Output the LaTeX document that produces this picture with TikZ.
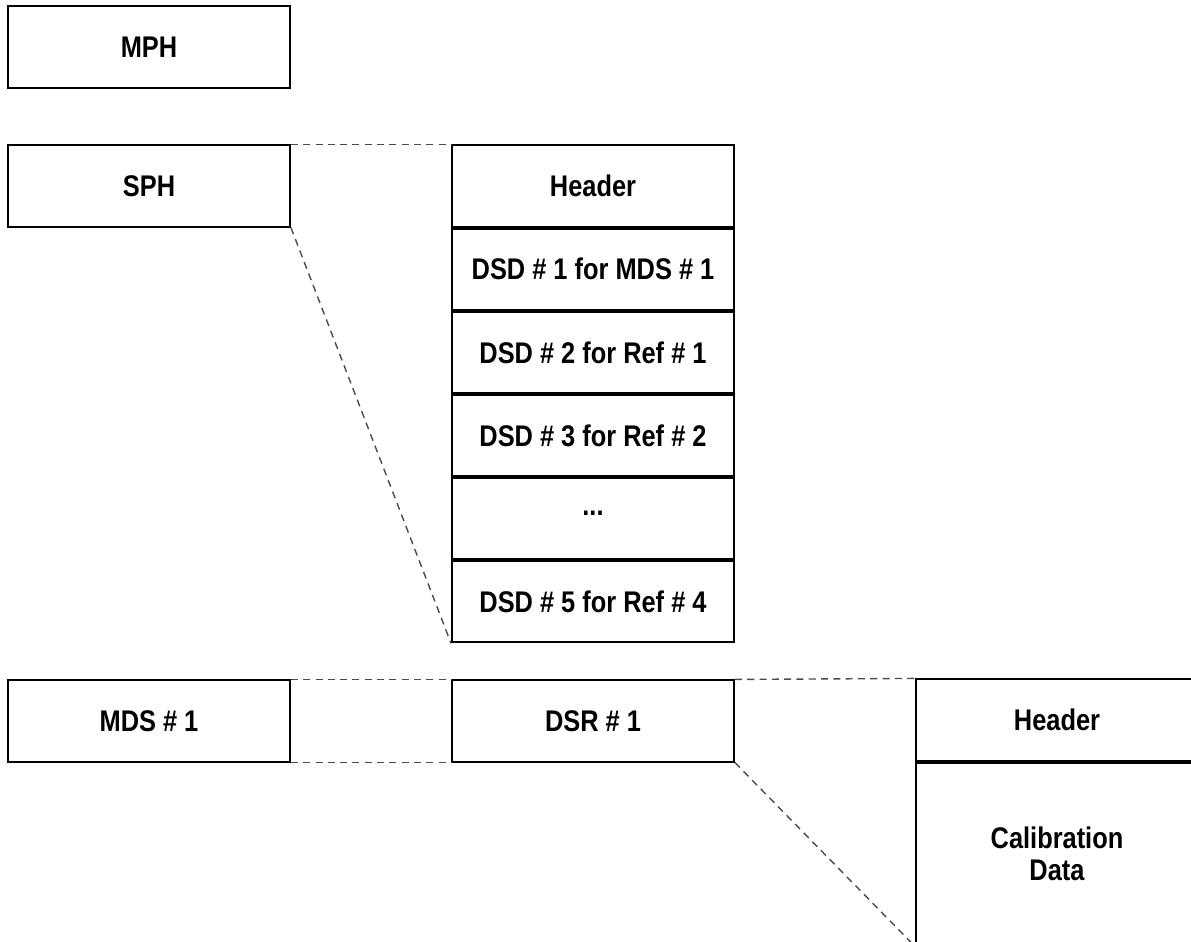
\documentclass[tikz,border=0pt]{standalone}
\usepackage{fontspec}
\setmainfont{Liberation Sans}[FakeStretch=0.85]
\usetikzlibrary{positioning}

\tikzset{
blk/.style={draw, line width=1.1pt, minimum width=5.64cm, minimum height=1.625cm, inner sep=0pt, align=center, font=\bfseries\fontsize{17}{18.5}\selectfont},
link/.style={dashed, dash pattern=on 4pt off 3pt, line width=0.8pt, gray!60!black}}

\begin{document}
\begin{tikzpicture}[x=0.02cm, y=-0.02cm, node distance=0pt]
   \path[use as bounding box, clip] (0,0) rectangle (1191,941);
   % product headers
   \node[blk] (mph) at (149,47) {MPH};
   \node[blk] (sph) at (149,186) {SPH};
   % SPH contents
   \node[blk] (hdr) at (593,186) {Header};
   \node[blk, below=of hdr] (dsd1) {DSD \# 1 for MDS \# 1};
   \node[blk, below=of dsd1] (dsd2) {DSD \# 2 for Ref \# 1};
   \node[blk, below=of dsd2] (dsd3) {DSD \# 3 for Ref \# 2};
   \node[blk, below=of dsd3] (dots) {\raisebox{6pt}{...}};
   \node[blk, below=of dots] (dsd5) {DSD \# 5 for Ref \# 4};
   % data set
   \node[blk] (mds) at (149,721) {MDS \# 1};
   \node[blk] (dsr) at (593,721) {DSR \# 1};
   \node[blk] (rhdr) at (1057,720) {Header};
   \node[blk, below=of rhdr, minimum height=3.66cm] (cal) {Calibration\\Data};

   \draw[link] (sph.north east) -- (hdr.north west);
   \draw[link] (sph.south east) -- (dsd5.south west);
   \draw[link] (mds.north east) -- (dsr.north west);
   \draw[link] (mds.south east) -- (dsr.south west);
   \draw[link] (dsr.north east) -- (rhdr.north west);
   \draw[link] (dsr.south east) -- (cal.south west);
\end{tikzpicture}
\end{document}
